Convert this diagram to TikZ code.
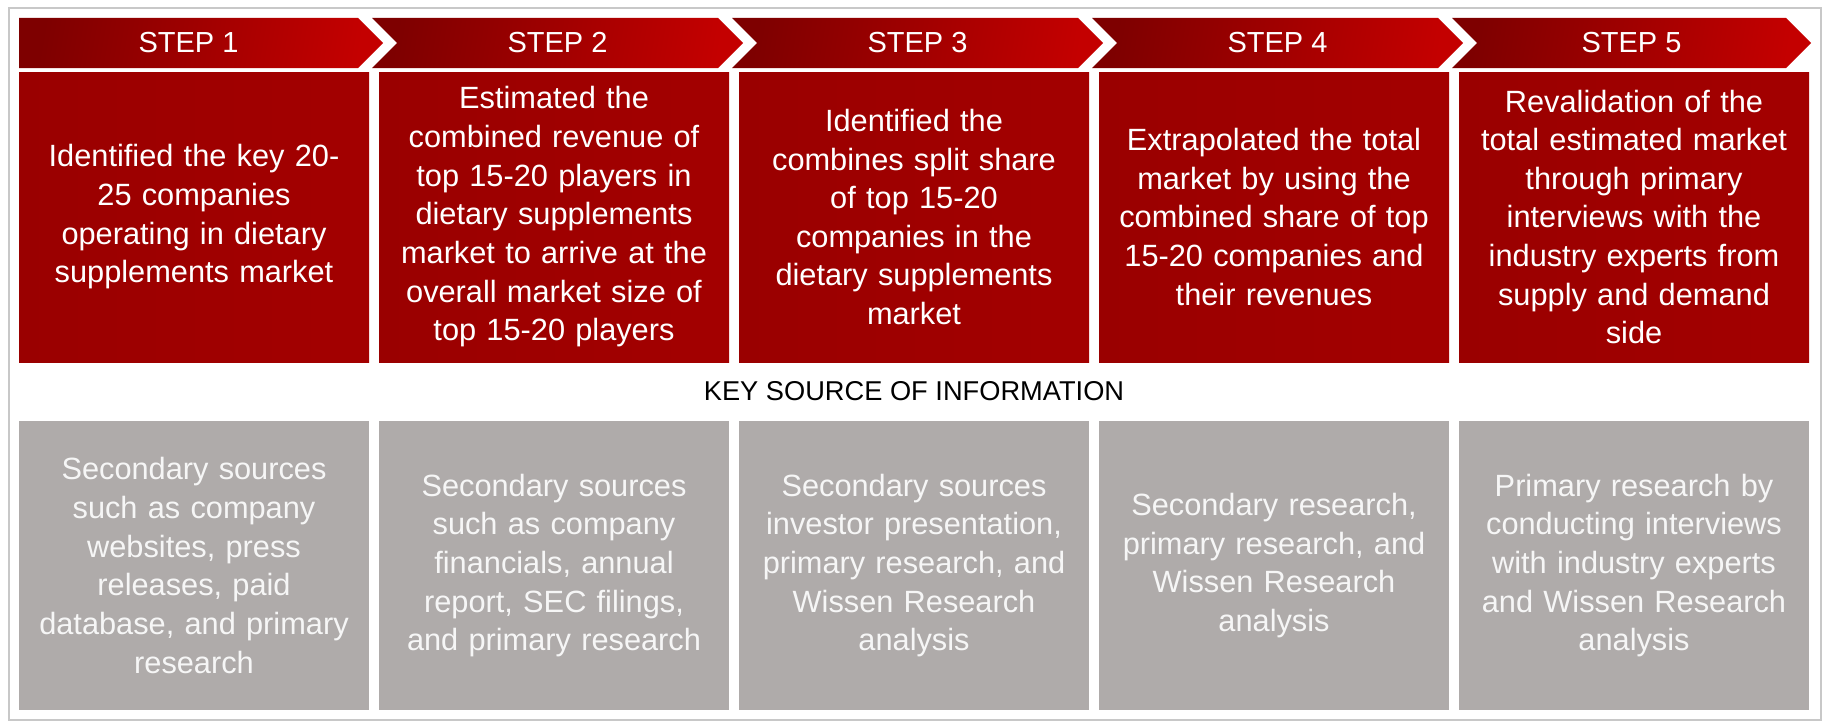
\documentclass[tikz,border=0pt]{standalone}
\usepackage{fontspec}
\setmainfont{Liberation Sans}
\usepackage{xcolor}
\usetikzlibrary{calc, positioning, shapes.symbols, fit}
\definecolor{stepdark}{HTML}{7E0000}
\definecolor{steplight}{HTML}{C40000}
\definecolor{boxred}{HTML}{9A0000}
\definecolor{boxredlight}{HTML}{A30000}
\definecolor{srcgray}{HTML}{AFABAA}
\definecolor{srctext}{HTML}{F6F6F6}
\definecolor{framegray}{HTML}{C8C8C8}
\tikzset{
  stephead/.style={
    signal, signal to=east, signal from=west, signal pointer angle=90,
    minimum height=1.0cm, minimum width=7.42cm, inner sep=0pt, outer sep=0pt,
    left color=stepdark, right color=steplight, shading angle=80,
    text=white, font=\fontsize{16.5}{20}\selectfont
  },
  stepfirst/.style={stephead, signal from=nowhere, minimum width=7.28cm},
  steplast/.style={stephead, minimum width=7.18cm},
  cellbase/.style={
    rectangle, minimum width=7.0cm, inner sep=0pt, outer sep=0pt,
    text width=6.8cm, align=center, font=\fontsize{17.5}{22}\selectfont
  },
  stepbox/.style={cellbase, minimum height=5.8cm, text=white,
    left color=boxred, right color=boxredlight},
  srcbox/.style={cellbase, minimum height=5.78cm, fill=srcgray, text=srctext},
  keylabel/.style={font=\fontsize{15.5}{18}\selectfont, text=black},
}

\begin{document}
\begin{tikzpicture}
  \useasboundingbox (0,0) rectangle (36.56,-14.52);

  % --- Step descriptions ---
  \node[stepbox] (box1) at (3.88,-4.34)
    {Identified the key 20-\\25 companies\\operating in dietary\\supplements market};
  \node[stepbox, right=0.2cm of box1] (box2)
    {Estimated the\\combined revenue of\\top 15-20 players in\\dietary supplements\\market to arrive at the\\overall market size of\\top 15-20 players};
  \node[stepbox, right=0.2cm of box2] (box3)
    {Identified the\\combines split share\\of top 15-20\\companies in the\\dietary supplements\\market};
  \node[stepbox, right=0.2cm of box3] (box4)
    {Extrapolated the total\\market by using the\\combined share of top\\15-20 companies and\\their revenues};
  \node[stepbox, right=0.2cm of box4] (box5)
    {Revalidation of the\\total estimated market\\through primary\\interviews with the\\industry experts from\\supply and demand\\side};

  % --- Step headers ---
  \node[stepfirst] (head1) at ($(box1.north)+(-0.11,0.58)$) {STEP 1};
  \node[stephead]  (head2) at ($(box2.north)+(0.07,0.58)$) {STEP 2};
  \node[stephead]  (head3) at ($(box3.north)+(0.07,0.58)$) {STEP 3};
  \node[stephead]  (head4) at ($(box4.north)+(0.07,0.58)$) {STEP 4};
  \node[steplast]  (head5) at ($(box5.north)+(-0.05,0.58)$) {STEP 5};

  % --- Sources ---
  \node[srcbox, below=1.18cm of box1] (src1)
    {Secondary sources\\such as company\\websites, press\\releases, paid\\database, and primary\\research};
  \node[srcbox, below=1.18cm of box2] (src2)
    {Secondary sources\\such as company\\financials, annual\\report, SEC filings,\\and primary research};
  \node[srcbox, below=1.18cm of box3] (src3)
    {Secondary sources\\investor presentation,\\primary research, and\\Wissen Research\\analysis};
  \node[srcbox, below=1.18cm of box4] (src4)
    {Secondary research,\\primary research, and\\Wissen Research\\analysis};
  \node[srcbox, below=1.18cm of box5] (src5)
    {Primary research by\\conducting interviews\\with industry experts\\and Wissen Research\\analysis};

  % --- Middle label ---
  \node[keylabel] (key) at ($(box1.south west)!0.5!(src5.north east)$)
    {KEY SOURCE OF INFORMATION};

  % --- Outer frame ---
  \node[draw=framegray, line width=0.04cm, fit=(head1)(head5)(src1)(src5),
        inner sep=0.2cm] (frame) {};

\end{tikzpicture}
\end{document}
